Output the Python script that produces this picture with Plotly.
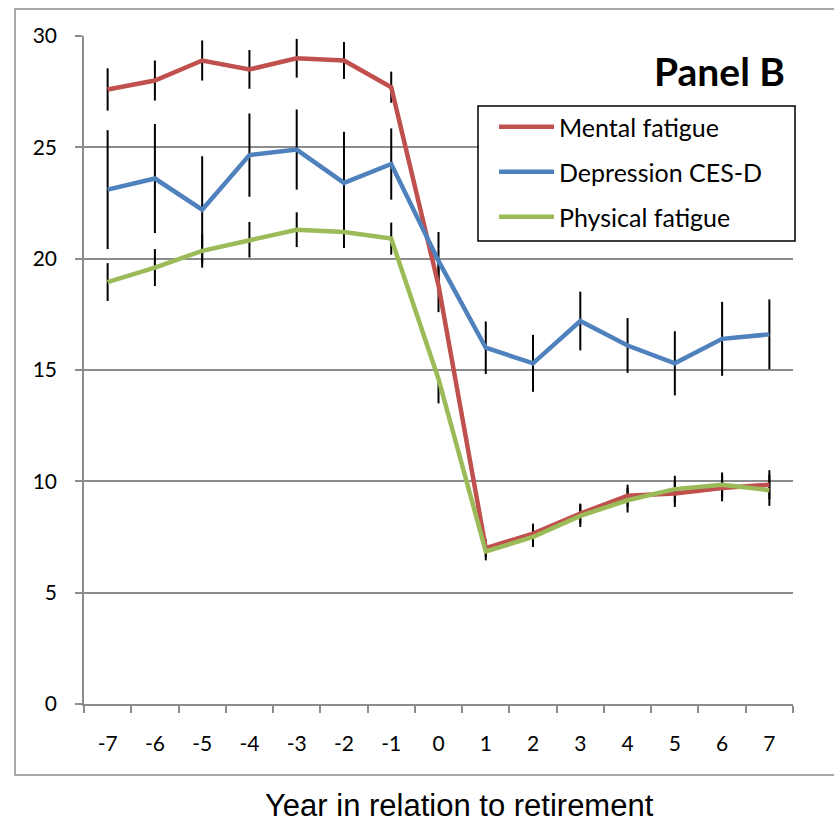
import plotly.graph_objects as go

# Years relative to retirement (category axis)
years = ["-7", "-6", "-5", "-4", "-3", "-2", "-1", "0", "1", "2", "3", "4", "5", "6", "7"]

# Mean scores per year
mental = [27.6, 28.0, 28.9, 28.5, 29.0, 28.9, 27.7, 18.8, 7.0, 7.65, 8.55, 9.35, 9.45, 9.7, 9.85]
depression = [23.1, 23.6, 22.2, 24.65, 24.9, 23.4, 24.25, 19.9, 16.0, 15.3, 17.2, 16.1, 15.3, 16.4, 16.6]
physical = [18.95, 19.6, 20.35, 20.85, 21.3, 21.2, 20.9, 14.6, 6.85, 7.5, 8.45, 9.15, 9.65, 9.85, 9.6]

# Confidence interval half-widths
mental_err = [0.95, 0.9, 0.9, 0.87, 0.87, 0.83, 0.7, 1.2, 0.4, 0.45, 0.45, 0.5, 0.6, 0.6, 0.65]
depression_err = [2.67, 2.45, 2.4, 1.87, 1.8, 2.3, 1.6, 1.3, 1.18, 1.28, 1.32, 1.23, 1.44, 1.66, 1.57]
physical_err_up = [0.85, 0.83, 0.75, 0.8, 0.78, 0.72, 0.72, 0.1, 0.4, 0.45, 0.5, 0.55, 0.6, 0.55, 0.7]
physical_err_down = [0.85, 0.83, 0.75, 0.8, 0.78, 0.72, 0.72, 1.1, 0.4, 0.45, 0.5, 0.55, 0.6, 0.55, 0.7]

series = [
    ("Mental fatigue", mental, mental_err, mental_err, "#C0504D"),
    ("Depression CES-D", depression, depression_err, depression_err, "#4F81BD"),
    ("Physical fatigue", physical, physical_err_up, physical_err_down, "#9BBB59"),
]

fig = go.Figure()

# Error bars first so the lines sit on top of them
for name, vals, up, down, color in series:
    fig.add_trace(go.Scatter(
        x=years, y=vals, mode="markers",
        marker=dict(size=1, color="rgba(0,0,0,0)"),
        error_y=dict(type="data", array=up, arrayminus=down, symmetric=False,
                     color="black", thickness=2, width=0),
        showlegend=False, hoverinfo="skip",
    ))

for i, (name, vals, up, down, color) in enumerate(series):
    fig.add_trace(go.Scatter(
        x=years, y=vals, mode="lines", name=name,
        line=dict(color=color, width=4.5),
        legendgroup=f"g{i}",
    ))

grey = "#8c8c8c"
L, R, T, B = 84, 41, 36, 118
W, H = 834, 822
pw, ph = W - L - R, H - T - B


def px_x(x):
    return (x - L) / pw


def px_y(y):
    return (H - B - y) / ph


fig.update_layout(
    width=W, height=H,
    margin=dict(l=L, r=R, t=T, b=B, autoexpand=False),
    paper_bgcolor="white", plot_bgcolor="white",
    font=dict(family="Lato, sans-serif", color="black"),
    showlegend=True,
    legend=dict(
        x=px_x(494), y=px_y(104), xanchor="left", yanchor="top",
        bgcolor="rgba(0,0,0,0)", borderwidth=0,
        font=dict(size=25, family="Lato, sans-serif", color="black"),
        tracegroupgap=9.5, itemwidth=55,
    ),
    xaxis=dict(
        type="category", tickson="boundaries", range=[-0.5, 14.5],
        showgrid=False, showline=True, linecolor=grey, linewidth=1.5,
        ticks="outside", ticklen=7, tickcolor=grey, tickwidth=1.5,
        tickfont=dict(size=21, family="Lato, sans-serif"),
        ticklabelstandoff=20, automargin=False,
        fixedrange=True,
    ),
    yaxis=dict(
        range=[0, 30], tickvals=[0, 5, 10, 15, 20, 25, 30],
        showgrid=True, gridcolor=grey, gridwidth=1.5,
        showline=True, linecolor=grey, linewidth=1.5,
        ticks="outside", ticklen=7, tickcolor=grey, tickwidth=1.5,
        tickfont=dict(size=21, family="Lato, sans-serif"),
        ticklabelstandoff=14, automargin=False,
        zeroline=False, fixedrange=True,
    ),
    shapes=[
        # outer chart frame
        dict(type="rect", xref="paper", yref="paper",
             x0=px_x(15), x1=px_x(840), y0=px_y(775), y1=px_y(9),
             line=dict(color=grey, width=1.5), fillcolor="rgba(0,0,0,0)", layer="below"),
        # legend box
        dict(type="rect", xref="paper", yref="paper",
             x0=px_x(478), x1=px_x(795), y0=px_y(241), y1=px_y(106),
             line=dict(color="black", width=1.5), fillcolor="white", layer="above"),
    ],
    annotations=[
        dict(text="<b>Panel B</b>", xref="paper", yref="paper",
             x=px_x(719), y=px_y(71), xanchor="center", yanchor="middle",
             showarrow=False, font=dict(size=39, family="Lato, sans-serif", color="black")),
        # x-axis title
        dict(text="Year in relation to retirement", xref="paper", yref="paper",
             x=px_x(460), y=px_y(805), xanchor="center", yanchor="middle",
             showarrow=False,
             font=dict(size=31, family="Liberation Sans, Arial, sans-serif", color="black")),
    ],
)

fig.write_html("out.html")
